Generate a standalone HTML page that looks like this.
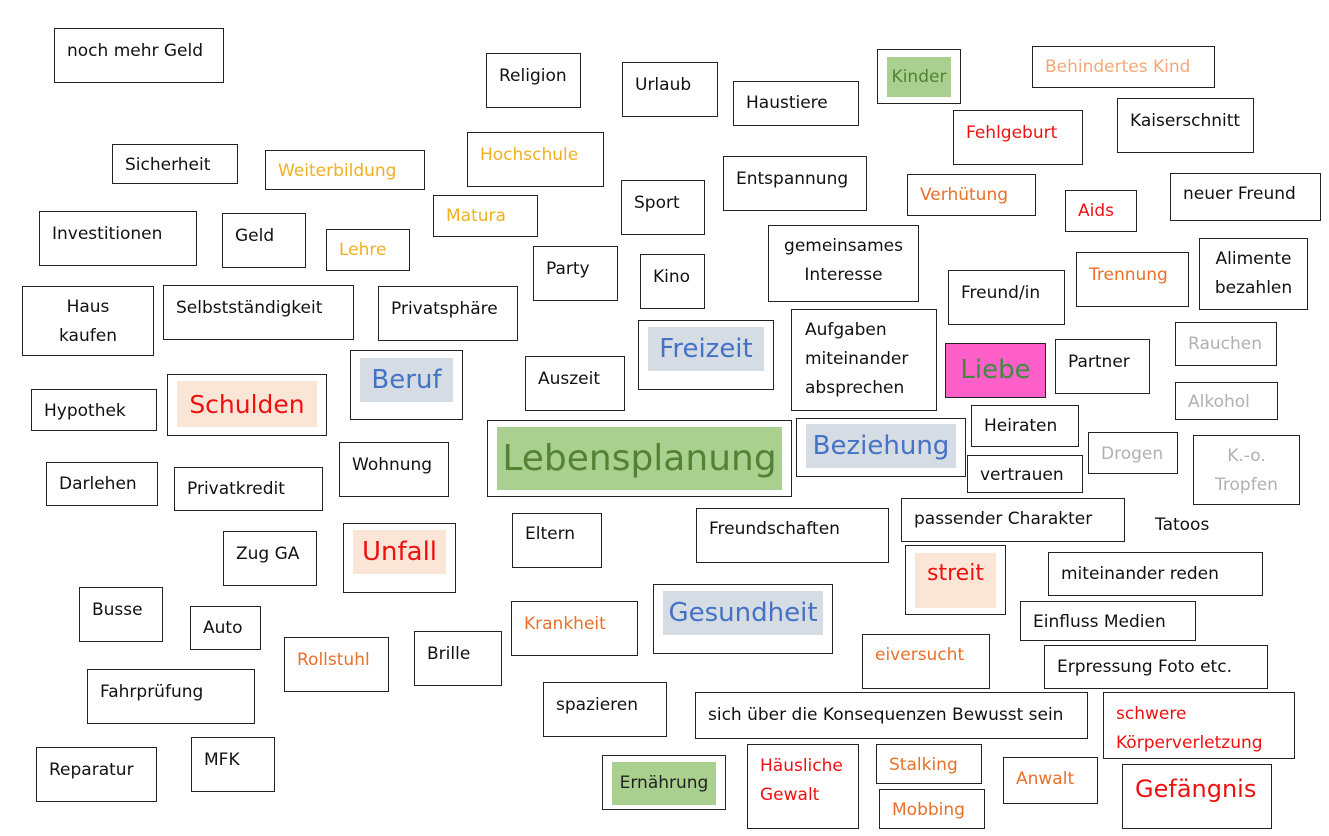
<!DOCTYPE html>
<html><head><meta charset="utf-8"><style>
body{margin:0;width:1329px;height:836px;background:#fff;position:relative;overflow:hidden;font-family:"DejaVu Sans","Liberation Sans",sans-serif;font-size:17px;color:#111}
.b{position:absolute;border:1px solid #222;box-sizing:border-box;padding:11px 12px;line-height:29px;white-space:nowrap}
.b.s{line-height:20px;padding-top:12px}
.in{position:absolute;display:flex;align-items:center;justify-content:center}
.y{color:#f0b020}.o{color:#e8702a}.r{color:#ee1111}.g{color:#b0b0b0}.p{color:#f4a878}
.blu{background:#d6dce4;color:#4472c4;font-size:26px}
</style></head><body>
<div class="b s" style="left:54px;top:28px;width:170px;height:55px">noch mehr Geld</div>
<div class="b s" style="left:486px;top:53px;width:95px;height:55px">Religion</div>
<div class="b s" style="left:622px;top:62px;width:96px;height:55px">Urlaub</div>
<div class="b s" style="left:733px;top:81px;width:126px;height:45px;padding-top:11px">Haustiere</div>
<div class="b" style="left:877px;top:49px;width:84px;height:55px"><div class="in" style="left:9px;top:7px;width:64px;height:40px;background:#a9d08e;color:#548235">Kinder</div></div>
<div class="b s p" style="left:1032px;top:46px;width:183px;height:42px;padding-top:10px">Behindertes Kind</div>
<div class="b s r" style="left:953px;top:110px;width:130px;height:55px">Fehlgeburt</div>
<div class="b s" style="left:1117px;top:98px;width:137px;height:55px">Kaiserschnitt</div>
<div class="b s" style="left:112px;top:144px;width:126px;height:40px;padding-top:10px">Sicherheit</div>
<div class="b s y" style="left:265px;top:150px;width:160px;height:40px;padding-top:10px">Weiterbildung</div>
<div class="b s y" style="left:467px;top:132px;width:137px;height:55px">Hochschule</div>
<div class="b s" style="left:723px;top:156px;width:144px;height:55px">Entspannung</div>
<div class="b s" style="left:621px;top:180px;width:84px;height:55px">Sport</div>
<div class="b s o" style="left:907px;top:174px;width:129px;height:42px;padding-top:10px">Verhütung</div>
<div class="b s r" style="left:1065px;top:190px;width:72px;height:42px;padding-top:10px">Aids</div>
<div class="b s" style="left:1170px;top:173px;width:151px;height:48px;padding-top:10px">neuer Freund</div>
<div class="b s" style="left:39px;top:211px;width:158px;height:55px">Investitionen</div>
<div class="b s" style="left:222px;top:213px;width:84px;height:55px">Geld</div>
<div class="b s y" style="left:433px;top:195px;width:105px;height:42px;padding-top:10px">Matura</div>
<div class="b s y" style="left:326px;top:229px;width:84px;height:42px;padding-top:10px">Lehre</div>
<div class="b s" style="left:533px;top:246px;width:85px;height:55px">Party</div>
<div class="b s" style="left:640px;top:254px;width:65px;height:55px">Kino</div>
<div class="b" style="left:768px;top:225px;width:151px;height:77px;text-align:center;padding-top:6px">gemeinsames<br>Interesse</div>
<div class="b s" style="left:948px;top:270px;width:117px;height:55px">Freund/in</div>
<div class="b s o" style="left:1076px;top:252px;width:113px;height:55px">Trennung</div>
<div class="b" style="left:1199px;top:238px;width:109px;height:72px;text-align:center;padding-top:6px">Alimente<br>bezahlen</div>
<div class="b" style="left:22px;top:286px;width:132px;height:70px;text-align:center;padding-top:6px">Haus<br>kaufen</div>
<div class="b s" style="left:163px;top:285px;width:191px;height:55px">Selbstständigkeit</div>
<div class="b s" style="left:378px;top:286px;width:140px;height:55px">Privatsphäre</div>
<div class="b" style="left:638px;top:320px;width:136px;height:70px"><div class="in blu" style="left:9px;top:6px;width:116px;height:44px">Freizeit</div></div>
<div class="b" style="left:791px;top:309px;width:146px;height:102px;padding-top:6px;padding-left:13px">Aufgaben<br>miteinander<br>absprechen</div>
<div class="b" style="left:945px;top:343px;width:101px;height:55px;background:#ff5fc8;color:#3f8a3f;font-size:26px;padding:0;display:flex;align-items:center;justify-content:center">Liebe</div>
<div class="b s" style="left:1055px;top:339px;width:95px;height:55px">Partner</div>
<div class="b s g" style="left:1175px;top:322px;width:102px;height:44px;padding-top:11px">Rauchen</div>
<div class="b" style="left:350px;top:350px;width:113px;height:70px"><div class="in blu" style="left:9px;top:7px;width:93px;height:44px">Beruf</div></div>
<div class="b s" style="left:525px;top:356px;width:100px;height:55px">Auszeit</div>
<div class="b s" style="left:31px;top:389px;width:126px;height:42px;padding-top:11px">Hypothek</div>
<div class="b" style="left:167px;top:374px;width:160px;height:62px"><div class="in" style="left:9px;top:6px;width:140px;height:46px;background:#fbe5d6;color:#ee1111;font-size:25px">Schulden</div></div>
<div class="b s g" style="left:1175px;top:382px;width:103px;height:38px;padding-top:9px">Alkohol</div>
<div class="b s" style="left:971px;top:405px;width:108px;height:42px;padding-top:10px">Heiraten</div>
<div class="b" style="left:487px;top:420px;width:305px;height:77px"><div class="in" style="left:9px;top:6px;width:285px;height:63px;background:#a9d08e;color:#548235;font-size:36px">Lebensplanung</div></div>
<div class="b" style="left:796px;top:418px;width:170px;height:59px"><div class="in blu" style="left:9px;top:5px;width:150px;height:44px">Beziehung</div></div>
<div class="b s g" style="left:1088px;top:432px;width:90px;height:42px;padding-top:11px">Drogen</div>
<div class="b g" style="left:1193px;top:435px;width:107px;height:70px;text-align:center;padding-top:6px">K.-o.<br>Tropfen</div>
<div class="b s" style="left:967px;top:455px;width:116px;height:38px;padding-top:9px">vertrauen</div>
<div class="b s" style="left:339px;top:442px;width:110px;height:55px">Wohnung</div>
<div class="b s" style="left:46px;top:462px;width:112px;height:44px;padding-top:11px">Darlehen</div>
<div class="b s" style="left:174px;top:467px;width:149px;height:44px;padding-top:11px">Privatkredit</div>
<div class="b s" style="left:901px;top:498px;width:224px;height:44px;padding-top:10px">passender Charakter</div>
<div style="position:absolute;left:1155px;top:515px;line-height:20px">Tatoos</div>
<div class="b s" style="left:696px;top:508px;width:193px;height:55px;padding-top:10px">Freundschaften</div>
<div class="b s" style="left:512px;top:513px;width:90px;height:55px;padding-top:10px">Eltern</div>
<div class="b" style="left:343px;top:523px;width:113px;height:70px"><div class="in" style="left:9px;top:6px;width:93px;height:44px;background:#fbe5d6;color:#ee1111;font-size:26px">Unfall</div></div>
<div class="b s" style="left:223px;top:531px;width:94px;height:55px">Zug GA</div>
<div class="b" style="left:905px;top:545px;width:101px;height:70px"><div class="in" style="left:9px;top:7px;width:81px;height:55px;background:#fbe5d6;color:#ee1111;font-size:22px;align-items:flex-start;padding-top:6px;box-sizing:border-box">streit</div></div>
<div class="b s" style="left:1048px;top:552px;width:215px;height:44px;padding-top:11px">miteinander reden</div>
<div class="b s" style="left:79px;top:587px;width:84px;height:55px">Busse</div>
<div class="b s" style="left:190px;top:606px;width:71px;height:44px;padding-top:11px">Auto</div>
<div class="b" style="left:653px;top:584px;width:180px;height:70px"><div class="in blu" style="left:9px;top:6px;width:160px;height:44px">Gesundheit</div></div>
<div class="b s o" style="left:511px;top:601px;width:127px;height:55px">Krankheit</div>
<div class="b s" style="left:1020px;top:601px;width:176px;height:40px;padding-top:10px">Einfluss Medien</div>
<div class="b s o" style="left:284px;top:637px;width:105px;height:55px">Rollstuhl</div>
<div class="b s" style="left:414px;top:631px;width:88px;height:55px">Brille</div>
<div class="b s o" style="left:862px;top:634px;width:128px;height:55px;padding-top:10px">eiversucht</div>
<div class="b s" style="left:1044px;top:645px;width:224px;height:44px;padding-top:11px">Erpressung Foto etc.</div>
<div class="b s" style="left:87px;top:669px;width:168px;height:55px">Fahrprüfung</div>
<div class="b s" style="left:543px;top:682px;width:124px;height:55px">spazieren</div>
<div class="b s" style="left:695px;top:692px;width:393px;height:47px;padding-top:12px">sich über die Konsequenzen Bewusst sein</div>
<div class="b r" style="left:1103px;top:692px;width:192px;height:67px;padding-top:7px;padding-left:12px">schwere<br>Körperverletzung</div>
<div class="b s" style="left:191px;top:737px;width:84px;height:55px">MFK</div>
<div class="b s" style="left:36px;top:747px;width:121px;height:55px">Reparatur</div>
<div class="b" style="left:602px;top:755px;width:124px;height:55px"><div class="in" style="left:9px;top:6px;width:104px;height:43px;background:#a9d08e;color:#222">Ernährung</div></div>
<div class="b r" style="left:747px;top:744px;width:112px;height:85px;padding-top:7px">Häusliche<br>Gewalt</div>
<div class="b s o" style="left:876px;top:744px;width:106px;height:40px;padding-top:10px">Stalking</div>
<div class="b s o" style="left:1003px;top:757px;width:95px;height:47px;padding-top:11px">Anwalt</div>
<div class="b r" style="left:1122px;top:764px;width:150px;height:65px;font-size:24px;padding-top:10px">Gefängnis</div>
<div class="b s o" style="left:879px;top:789px;width:106px;height:40px;padding-top:10px">Mobbing</div>
</body></html>
